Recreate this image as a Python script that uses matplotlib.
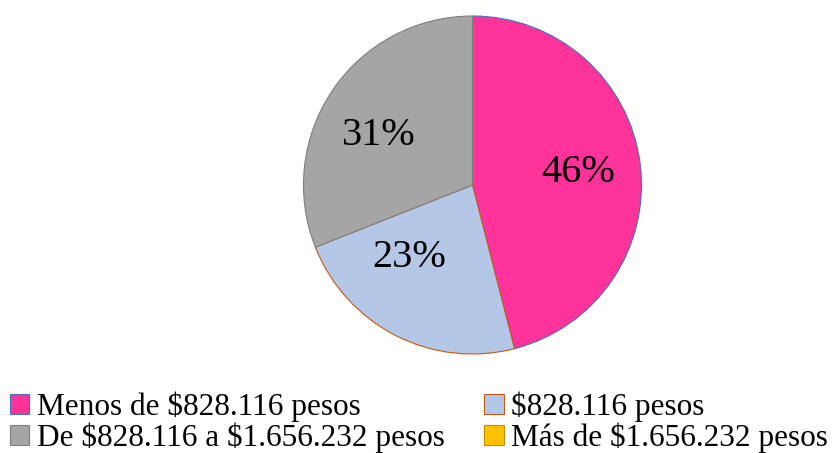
import matplotlib
matplotlib.use("Agg")
import matplotlib.pyplot as plt
import numpy as np

categories = ["Menos de $828.116 pesos", "$828.116 pesos",
              "De $828.116 a $1.656.232 pesos", "Más de $1.656.232 pesos"]
values = [46, 23, 31, 0]
colors = ["#FF3399", "#B4C7E7", "#A5A5A5", "#FFC000"]
edges = ["#4472C4", "#C55A11", "#7F7F7F", "#BF9000"]

plt.rcParams['font.family'] = ['Liberation Serif', 'DejaVu Serif']
plt.rcParams['text.parse_math'] = False

fig = plt.figure(figsize=(8.35, 4.53), dpi=100)
cx, cy, r = 472.5, 185, 169
W, H = 835, 453
ax = fig.add_axes([(cx - r) / W, (H - cy - r) / H, 2 * r / W, 2 * r / H])
wedges, texts, autotexts = ax.pie(
    values, colors=colors, startangle=90, counterclock=False,
    autopct=lambda p: f"{p:.0f}%" if p > 0.5 else "",
    pctdistance=0.63, radius=1.0,
    wedgeprops=dict(linewidth=0.8),
    textprops=dict(fontsize=29, color="black"))
for w, ec in zip(wedges, edges):
    w.set_edgecolor(ec)

# label placement (Excel "best fit" style): distance and angle per label
label_dist = [0.63, 0.57, 0.63]
label_ang = [7, -131, 152]
for t, d, a in zip(autotexts, label_dist, label_ang):
    t.set_position((d * np.cos(np.radians(a)), d * np.sin(np.radians(a))))

ax.set_xlim(-1, 1)
ax.set_ylim(-1, 1)
ax.set_aspect('equal')
ax.axis('off')

order = [0, 2, 1, 3]
leg = fig.legend([wedges[i] for i in order], [categories[i] for i in order],
                 ncol=2, loc='upper left', bbox_to_anchor=(0.012, 0.135),
                 frameon=False, fontsize=22.5, handlelength=0.62, handleheight=0.62,
                 handletextpad=0.25, columnspacing=1.25, labelspacing=0.0,
                 borderaxespad=0, borderpad=0)
# hide outline of the empty (0%) wedge in the pie
for w, v in zip(wedges, values):
    if v == 0:
        w.set_linewidth(0)
fig.savefig("out.png", dpi=100)
